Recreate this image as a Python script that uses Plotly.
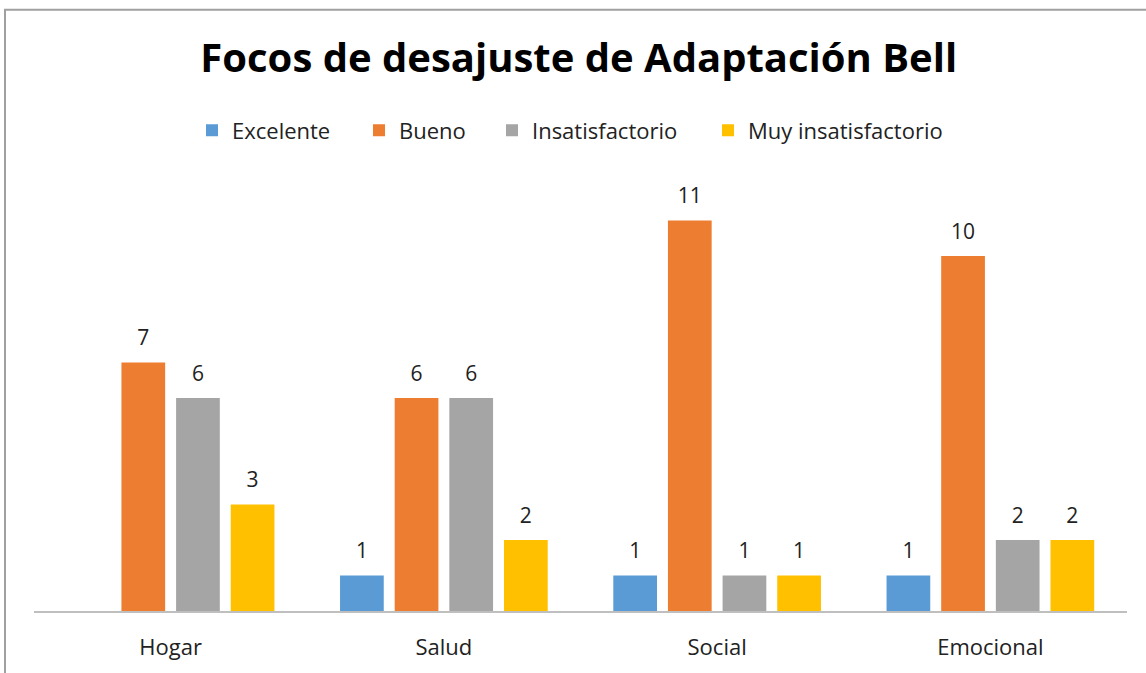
import plotly.graph_objects as go

categorias = ['Hogar', 'Salud', 'Social', 'Emocional']
excelente = [0, 1, 1, 1]
bueno = [7, 6, 11, 10]
insatisfactorio = [6, 6, 1, 2]
muy_insatisfactorio = [3, 2, 1, 2]

series = [
    ('Excelente', excelente, '#5B9BD5'),
    ('Bueno', bueno, '#ED7D31'),
    ('Insatisfactorio', insatisfactorio, '#A5A5A5'),
    ('Muy insatisfactorio', muy_insatisfactorio, '#FFC000'),
]

fuente = 'Open Sans'
# pixel where each legend entry's text starts in the original
inicio_leyenda = [232, 399, 532, 748]

fig = go.Figure()
leyendas = ['legend', 'legend2', 'legend3', 'legend4']
for (nombre, valores, color), ley in zip(series, leyendas):
    fig.add_trace(go.Bar(
        x=categorias,
        y=valores,
        name=nombre,
        marker=dict(color=color, line=dict(width=0)),
        legend=ley,
    ))
for nombre, valores, color in series:
    # labels as grouped scatter text so they sit higher above the bars than bar text does
    # Excel does not label zero-height bars
    fig.add_trace(go.Scatter(
        x=categorias,
        y=valores,
        mode='markers+text',
        text=[str(v) if v else '' for v in valores],
        textposition='top center',
        textfont=dict(size=21, color='#222222', family=fuente),
        marker=dict(size=18, color='rgba(0,0,0,0)'),
        showlegend=False,
        hoverinfo='skip',
        cliponaxis=False,
    ))

fig.update_layout(
    width=1146,
    height=673,
    barmode='group',
    bargap=0.2,
    bargroupgap=0.2,
    scattermode='group',
    scattergap=0.2,
    plot_bgcolor='white',
    paper_bgcolor='white',
    margin=dict(l=34, r=19, t=185, b=58),
    title=dict(
        text='<b>Focos de desajuste de Adaptación Bell</b>',
        x=0.505, xanchor='center', y=1 - 58 / 673, yanchor='middle',
        font=dict(size=40, color='black', family=fuente),
    ),
    font=dict(family=fuente),
)
for ley, px in zip(leyendas, inicio_leyenda):
    fig.update_layout({ley: dict(
        orientation='h', x=(px - 40 - 34) / 1093, xanchor='left',
        y=(615 - 130) / 430, yanchor='middle',
        font=dict(size=22, color='#222222', family=fuente),
        bgcolor='rgba(0,0,0,0)',
    )})

fig.update_xaxes(
    showline=True, linecolor='#BFBFBF', linewidth=1.5,
    ticks='outside', ticklen=16, tickcolor='white',
    tickfont=dict(size=22, color='#222222', family=fuente),
)
fig.update_yaxes(range=[0, 12], visible=False, showgrid=False)

# chart area border, partly cut off at the right and bottom like the original
fig.add_shape(
    type='rect', xref='paper', yref='paper',
    x0=(5 - 34) / 1093, x1=(1160 - 34) / 1093,
    y0=(615 - 690) / 430, y1=(615 - 8) / 430,
    line=dict(color='#A0A0A0', width=2),
    fillcolor='rgba(0,0,0,0)', layer='below',
)

fig.write_html('out.html', config={'displayModeBar': False},
               post_script="document.body.style.margin='0';")
